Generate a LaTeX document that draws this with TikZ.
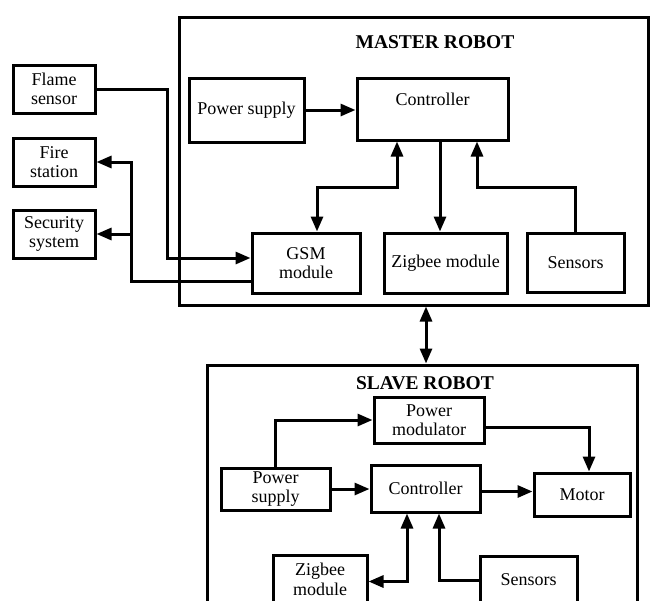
\documentclass[tikz,border=0pt]{standalone}
\usepackage{fontspec}
\setmainfont{Liberation Serif}
\usetikzlibrary{arrows.meta}
\begin{document}
\begin{tikzpicture}[x=1pt,y=-1pt,
  box/.style={draw,line width=3pt,align=center,inner sep=2pt,font=\fontsize{18}{19.5}\selectfont},
  frame/.style={draw,line width=3pt},
  title/.style={font=\fontsize{19.5}{21}\selectfont\bfseries},
  conn/.style={line width=3pt,-{Triangle[length=15pt,width=12pt]}},
  bconn/.style={line width=3pt,{Triangle[length=15pt,width=12pt]}-{Triangle[length=15pt,width=12pt]}}]
\clip (0,0) rectangle (650,600);
\fill[white] (0,0) rectangle (650,600);
% containers
\node[frame,minimum width=469pt,minimum height=288pt] (master) at (413.5,161) {};
\node[frame,minimum width=430pt,minimum height=255pt] (slave) at (422,492.5) {};
\node[title] (mtitle) at (435,42) {MASTER ROBOT};
\node[title] (stitle) at (425,383) {SLAVE ROBOT};
% master nodes
\node[box,minimum width=115pt,minimum height=64pt] (psm) at (246.5,110) {Power supply};
\node[box,minimum width=151pt,minimum height=62pt] (ctrlm) at (432.5,109) {\smash{\raisebox{4pt}{Controller}}};
\node[box,minimum width=108pt,minimum height=60pt] (gsm) at (306,263) {GSM\\module};
\node[box,minimum width=123pt,minimum height=60pt] (zigm) at (445.5,263) {Zigbee module};
\node[box,minimum width=97pt,minimum height=59pt] (sensm) at (575.5,262.5) {Sensors};
% external nodes
\node[box,minimum width=82pt,minimum height=48pt] (flame) at (54,89) {Flame\\sensor};
\node[box,minimum width=82pt,minimum height=48pt] (fire) at (54,162) {Fire\\station};
\node[box,minimum width=82pt,minimum height=48pt] (sec) at (54,234) {Security\\system};
% slave nodes
\node[box,minimum width=110pt,minimum height=46pt] (pmod) at (429,420) {Power\\modulator};
\node[box,minimum width=109pt,minimum height=42pt] (pss) at (275.5,489) {Power\\supply};
\node[box,minimum width=109pt,minimum height=47pt] (ctrls) at (425.5,488.5) {Controller};
\node[box,minimum width=96pt,minimum height=43pt] (motor) at (582,494.5) {Motor};
\node[box,minimum width=94pt,minimum height=48pt] (zigs) at (320,579.5) {Zigbee\\module};
\node[box,minimum width=97pt,minimum height=48pt] (senss) at (528.5,580) {Sensors};
% master connectors
\draw[conn] (psm.east) -- (psm.east -| ctrlm.west);
\draw[bconn] ([xshift=-35.5pt]ctrlm.south) -- ++(0,46) -| ([xshift=11pt]gsm.north);
\draw[conn] ([xshift=7.5pt]ctrlm.south) -- ([xshift=7.5pt]ctrlm.south |- zigm.north);
\draw[conn] (sensm.north) -- ++(0,-44) -| ([xshift=44.5pt]ctrlm.south);
\draw[conn] (flame.east) -- ++(71,0) |- ([yshift=5pt]gsm.west);
\draw[conn] ([yshift=-18pt]gsm.west) -- ++(-119,0) coordinate (j) |- (fire.east);
\draw[conn] (j |- sec.east) -- (sec.east);
% master-slave link
\draw[bconn] ([xshift=12.5pt]master.south) -- ([xshift=12.5pt]master.south |- slave.north);
% slave connectors
\draw[conn] (pss.north) |- (pmod.west);
\draw[conn] ([yshift=-7pt]pmod.east) -| ([xshift=7pt]motor.north);
\draw[conn] (pss.east) -- (pss.east -| ctrls.west);
\draw[conn] ([yshift=-3pt]ctrls.east) -- ([yshift=-3pt]ctrls.east -| motor.west);
\draw[bconn] ([xshift=-18.5pt]ctrls.south) |- ([yshift=-2pt]zigs.east);
\draw[conn] (senss.west) -| ([xshift=13.5pt]ctrls.south);
\end{tikzpicture}
\end{document}
